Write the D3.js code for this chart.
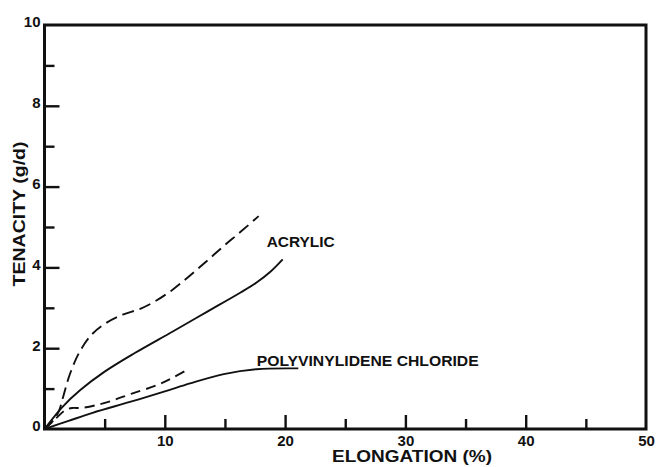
<!DOCTYPE html>
<html>
<head>
<meta charset="utf-8">
<script src="https://cdn.jsdelivr.net/npm/d3@7"></script>
<style>
  html, body { margin: 0; padding: 0; background: #fff; }
  svg { display: block; }
  text { font-family: "Liberation Sans", Arial, Helvetica, sans-serif; font-weight: bold; fill: #111; }
</style>
</head>
<body>
<svg id="chart" width="658" height="467"></svg>
<script>
// Stress–strain curves: tenacity (g/d) against elongation (%)
const xMajorTicks = [10, 20, 30, 40, 50];
const xMinorTicks = [5, 15, 25, 35, 45];
const yMajorTicks = [0, 2, 4, 6, 8, 10];
const yMinorTicks = [1, 3, 5, 7, 9];

// Acrylic, dashed (upper)
const acrylicDashed = [
  [0, 0], [0.7, 0.2], [1.2, 0.45], [1.6, 0.85], [2.1, 1.35], [2.9, 1.9],
  [3.9, 2.33], [5.0, 2.6], [6.5, 2.83], [8.0, 2.98], [9.3, 3.18],
  [10.7, 3.46], [12.1, 3.8], [13.5, 4.16], [14.9, 4.53], [16.3, 4.88], [17.8, 5.27]
];
// Acrylic, solid
const acrylicSolid = [
  [0, 0], [1.5, 0.55], [3.0, 0.97], [5.0, 1.42], [7.5, 1.88], [10.7, 2.42],
  [13.5, 2.9], [16.3, 3.38], [17.6, 3.62], [18.8, 3.9], [19.8, 4.2]
];
// Polyvinylidene chloride, dashed
const pvdcDashed = [
  [0, 0], [0.9, 0.25], [1.7, 0.46], [2.3, 0.52], [3.0, 0.52], [4.3, 0.59],
  [5.7, 0.71], [7.2, 0.87], [9.3, 1.08], [10.6, 1.26], [11.9, 1.47]
];
// Polyvinylidene chloride, solid
const pvdcSolid = [
  [0, 0], [2.0, 0.2], [4.0, 0.4], [7.1, 0.67], [10.0, 0.93], [12.1, 1.13],
  [14.9, 1.36], [17.6, 1.48], [21.1, 1.5]
];

const curveLabels = [
  { text: "ACRYLIC", x: 266.7, y: 247, len: 68 },
  { text: "POLYVINYLIDENE CHLORIDE", x: 256.7, y: 365.5, len: 222 }
];

const svg = d3.select("#chart");
const x = d3.scaleLinear().domain([0, 50]).range([44.5, 646]);
const y = d3.scaleLinear().domain([0, 10]).range([429, 25]);

// Frame
svg.append("rect")
  .attr("x", x(0)).attr("y", y(10))
  .attr("width", x(50) - x(0)).attr("height", y(0) - y(10))
  .attr("fill", "none").attr("stroke", "#111").attr("stroke-width", 3);

function styleAxis(g, fontSize) {
  g.select(".domain").remove();
  g.selectAll(".tick line").attr("stroke", "#111").attr("stroke-width", 2.4);
  g.selectAll(".tick text").attr("fill", "#111")
    .style("font-family", '"Liberation Sans", Arial, sans-serif')
    .style("font-weight", "bold").style("font-size", fontSize + "px");
}

// Y axis: major ticks with labels, minor ticks shorter
const yMajor = svg.append("g").attr("transform", `translate(${x(0)},0)`)
  .call(d3.axisLeft(y).tickValues(yMajorTicks.filter(d => d > 0 && d < 10)).tickSize(-15).tickPadding(4).tickFormat(d3.format("d")));
styleAxis(yMajor, 15);
yMajor.selectAll(".tick text").attr("dy", "0.12em");
const yLab = svg.append("g").attr("transform", `translate(${x(0)},0)`)
  .call(d3.axisLeft(y).tickValues([0, 10]).tickSize(0).tickPadding(4).tickFormat(d3.format("d")));
styleAxis(yLab, 15);
yLab.selectAll(".tick text").attr("dy", "0.12em");
const yMinor = svg.append("g").attr("transform", `translate(${x(0)},0)`)
  .call(d3.axisLeft(y).tickValues(yMinorTicks).tickSize(-10).tickFormat(""));
styleAxis(yMinor, 15);

// X axis
const xMajor = svg.append("g").attr("transform", `translate(0,${y(0)})`)
  .call(d3.axisBottom(x).tickValues(xMajorTicks.filter(d => d < 50)).tickSize(-14).tickPadding(6).tickFormat(d3.format("d")));
styleAxis(xMajor, 15);
const xLab = svg.append("g").attr("transform", `translate(0,${y(0)})`)
  .call(d3.axisBottom(x).tickValues([50]).tickSize(0).tickPadding(6).tickFormat(d3.format("d")));
styleAxis(xLab, 15);
const xMinor = svg.append("g").attr("transform", `translate(0,${y(0)})`)
  .call(d3.axisBottom(x).tickValues(xMinorTicks).tickSize(-10).tickFormat(""));
styleAxis(xMinor, 15);

// Curves
const line = d3.line().x(d => x(d[0])).y(d => y(d[1])).curve(d3.curveCatmullRom.alpha(0.5));
const series = [
  { data: acrylicDashed, dash: "12,6" },
  { data: acrylicSolid, dash: null },
  { data: pvdcDashed, dash: "10,6" },
  { data: pvdcSolid, dash: null }
];
svg.append("g").selectAll("path").data(series).join("path")
  .attr("d", d => line(d.data))
  .attr("fill", "none").attr("stroke", "#111").attr("stroke-width", 1.9)
  .attr("stroke-dasharray", d => d.dash);

// Curve labels
svg.append("g").selectAll("text").data(curveLabels).join("text")
  .attr("x", d => d.x).attr("y", d => d.y)
  .attr("textLength", d => d.len).attr("lengthAdjust", "spacingAndGlyphs")
  .style("font-size", "15px").text(d => d.text);

// Axis titles
svg.append("text").attr("x", 332).attr("y", 462)
  .attr("textLength", 160).attr("lengthAdjust", "spacingAndGlyphs")
  .style("font-size", "17px").text("ELONGATION (%)");
svg.append("text").attr("transform", "translate(24.5,214) rotate(-90)")
  .attr("text-anchor", "middle")
  .attr("textLength", 145).attr("lengthAdjust", "spacingAndGlyphs")
  .style("font-size", "16px").text("TENACITY (g/d)");
</script>
</body>
</html>
